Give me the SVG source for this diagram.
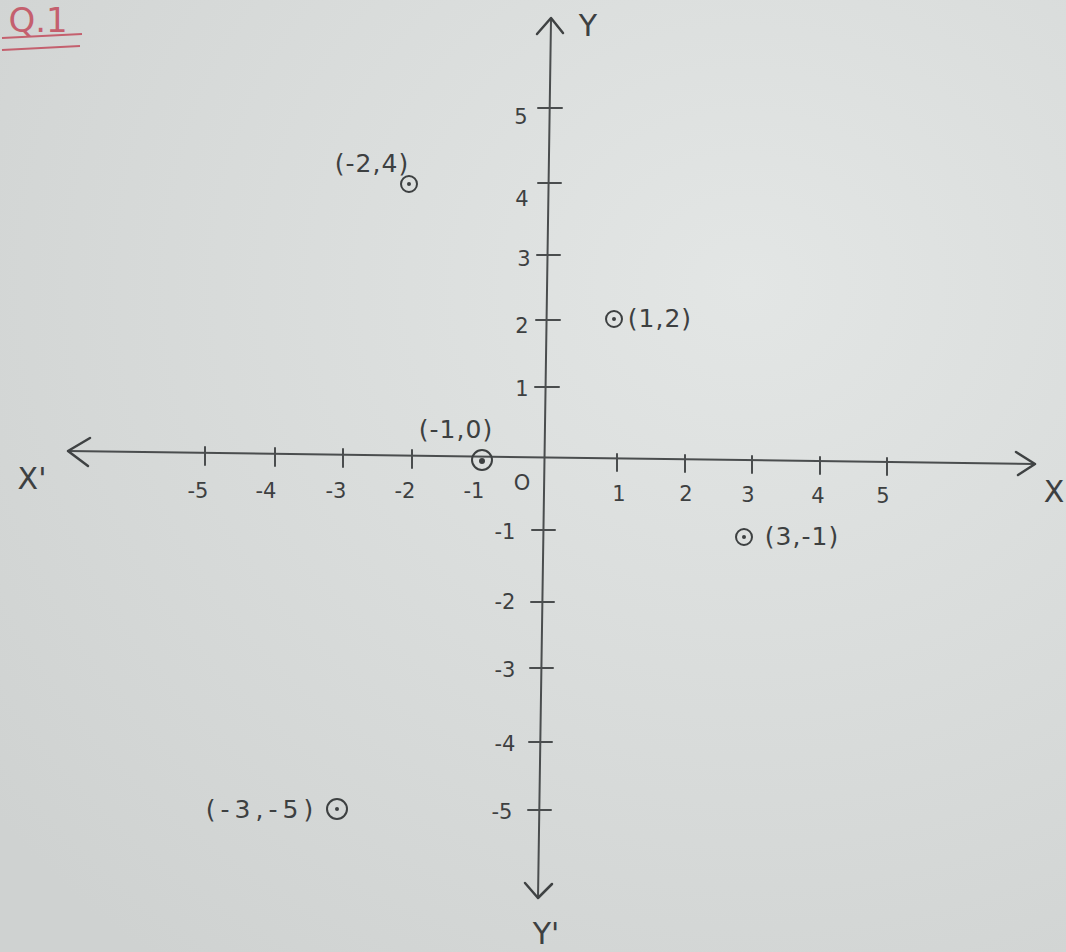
<svg xmlns="http://www.w3.org/2000/svg" width="1066" height="952" viewBox="0 0 1066 952">
<defs>
<radialGradient id="paper" cx="0.7" cy="0.3" r="0.9">
<stop offset="0" stop-color="#e3e6e5"/>
<stop offset="1" stop-color="#cfd2d1"/>
</radialGradient>
<style>
.ax{stroke:#4a4d4e;stroke-width:2;fill:none;stroke-linecap:round}
.hd{stroke:#3f4243;stroke-width:2.5;fill:none;stroke-linecap:round;stroke-linejoin:round}
.tk{stroke:#4a4d4e;stroke-width:2;stroke-linecap:round}
.t{font-family:"DejaVu Sans",sans-serif;font-size:21px;fill:#3d4041;text-anchor:middle}
.p{font-family:"DejaVu Sans",sans-serif;font-size:25px;fill:#3d4041;text-anchor:middle}
.lb{font-family:"DejaVu Sans",sans-serif;font-size:30px;fill:#3d4041;text-anchor:middle}
.pt{stroke:#3d4041;stroke-width:2;fill:none}
.dot{fill:#3d4041}
</style>
</defs>
<rect width="1066" height="952" fill="url(#paper)"/>
<g id="title">
<text x="38" y="32" font-family="DejaVu Sans,sans-serif" font-size="34" fill="#c4606e" text-anchor="middle">Q.1</text>
<path d="M2 38 L82 34 M2 50 L80 46" stroke="#c4606e" stroke-width="2" fill="none"/>
</g>
<g id="connectors">
<path class="ax" d="M68 451 L1035 464"/>
<path class="hd" d="M90 438 L68 451 L88 466"/>
<path class="hd" d="M1016 452 L1035 464 L1018 475"/>
<path class="ax" d="M551 20 L538 898"/>
<path class="hd" d="M537 34 L551 18 L563 33"/>
<path class="hd" d="M525 883 L538 898 L552 884"/>
</g>
<g id="ticks">
<path class="tk" d="M205 447 V465 M275 448 V466 M343 449 V467 M412 450 V468 M617 454 V471 M685 455 V472 M752 456 V473 M820 457 V474 M887 458 V475"/>
<path class="tk" d="M538 108 H562 M538 183 H561 M537 255 H560 M536 320 H560 M535 387 H559 M532 530 H555 M531 602 H554 M530 668 H553 M529 742 H552 M528 810 H551"/>
</g>
<g id="xlabels">
<text class="t" x="198" y="498">-5</text>
<text class="t" x="266" y="498">-4</text>
<text class="t" x="336" y="498">-3</text>
<text class="t" x="405" y="498">-2</text>
<text class="t" x="474" y="498">-1</text>
<text class="t" x="522" y="490">O</text>
<text class="t" x="619" y="501">1</text>
<text class="t" x="686" y="501">2</text>
<text class="t" x="748" y="502">3</text>
<text class="t" x="818" y="503">4</text>
<text class="t" x="883" y="503">5</text>
</g>
<g id="ylabels">
<text class="t" x="521" y="124">5</text>
<text class="t" x="522" y="206">4</text>
<text class="t" x="524" y="266">3</text>
<text class="t" x="522" y="333">2</text>
<text class="t" x="522" y="396">1</text>
<text class="t" x="505" y="539">-1</text>
<text class="t" x="505" y="609">-2</text>
<text class="t" x="505" y="677">-3</text>
<text class="t" x="505" y="751">-4</text>
<text class="t" x="502" y="819">-5</text>
</g>
<g id="axis-names">
<text class="lb" x="32" y="489">X'</text>
<text class="lb" x="588" y="36">Y</text>
<text class="lb" x="1054" y="502">X</text>
<text class="lb" x="546" y="944">Y'</text>
</g>
<g id="p-m2-4">
<circle class="pt" cx="409" cy="184" r="8"/><circle class="dot" cx="409" cy="184" r="2"/>
<text class="p" x="372" y="172" letter-spacing="1">(-2,4)</text>
</g>
<g id="p-1-2">
<circle class="pt" cx="614" cy="319" r="8"/><circle class="dot" cx="614" cy="319" r="2"/>
<text class="p" x="660" y="327" letter-spacing="1">(1,2)</text>
</g>
<g id="p-m1-0">
<circle class="pt" cx="482" cy="460" r="10"/><circle class="dot" cx="482" cy="461" r="3"/>
<text class="p" x="456" y="438" letter-spacing="1">(-1,0)</text>
</g>
<g id="p-3-m1">
<circle class="pt" cx="744" cy="537" r="8"/><circle class="dot" cx="744" cy="537" r="2"/>
<text class="p" x="802" y="545" letter-spacing="1">(3,-1)</text>
</g>
<g id="p-m3-m5">
<circle class="pt" cx="337" cy="809" r="10"/><circle class="dot" cx="337" cy="809" r="2"/>
<text class="p" x="262" y="818" letter-spacing="5">(-3,-5)</text>
</g>
</svg>
